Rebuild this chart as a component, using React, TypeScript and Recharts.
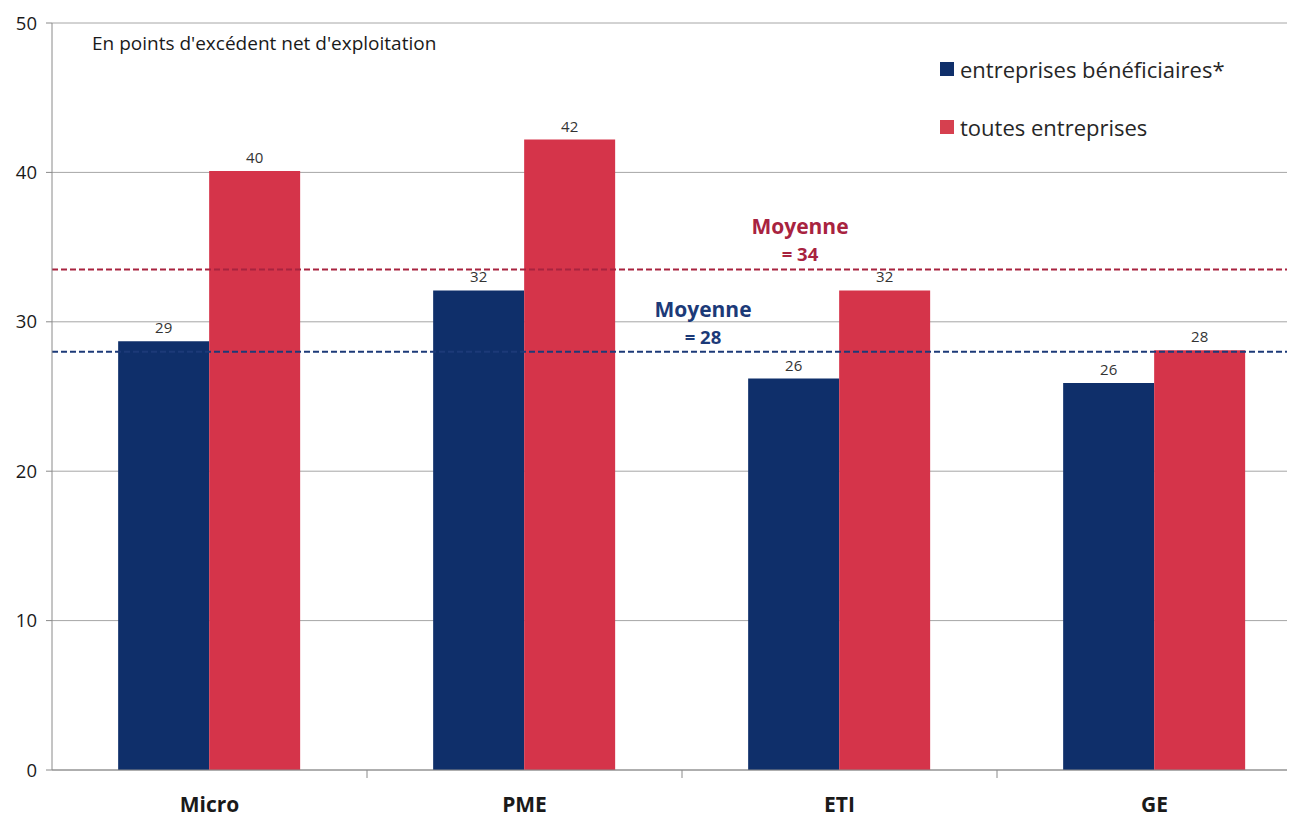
import React from "react";
import {
  BarChart,
  Bar,
  XAxis,
  YAxis,
  CartesianGrid,
  ReferenceLine,
  LabelList,
} from "recharts";

const categories = ["Micro", "PME", "ETI", "GE"];
const beneficiaires = [28.7, 32.1, 26.2, 25.9];
const toutes = [40.1, 42.2, 32.1, 28.1];
const yTicks = [0, 10, 20, 30, 40, 50];
const avgToutes = 33.5;
const avgToutesLabel = "= 34";
const avgBenef = 28;
const avgBenefLabel = "= 28";
const seriesNames = ["entreprises bénéficiaires*", "toutes entreprises"];
const title = "En points d'excédent net d'exploitation";

const data = categories.map((c, i) => ({
  name: c,
  benef: beneficiaires[i],
  toutes: toutes[i],
}));

const BLUE = "#0f2f6a";
const RED = "#d5344a";
const RED_DARK = "#a8233f";
const BLUE_DARK = "#1c3a78";
const FONT = "'Open Sans', 'Liberation Sans', sans-serif";

const CHART_W = 1320;
const CHART_H = 819;
const MARGIN = { top: 23, right: 8, left: 0, bottom: 0 };
const Y_W = 52;
const BAND = (CHART_W - MARGIN.left - MARGIN.right - Y_W) / categories.length;

const XTick = (props: any) => {
  const { x, y, payload } = props;
  const bx = x + BAND / 2;
  return (
    <g>
      <line x1={bx} y1={y - 8} x2={bx} y2={y} stroke="#8a8a8a" strokeWidth={1} />
      <text
        x={x}
        y={y + 34}
        textAnchor="middle"
        fontFamily={FONT}
        fontWeight={700}
        fontSize={21}
        fill="#1a1a1a"
      >
        {payload.value}
      </text>
    </g>
  );
};

const makeAvgLabel = (color: string, cx: number, text: string, dy1: number, dy2: number) =>
  (props: any) => {
    const vb = props.viewBox || {};
    const x = vb.x + cx;
    const y = vb.y;
    return (
      <g>
        <text x={x} y={y + dy1} textAnchor="middle" fontFamily={FONT} fontWeight={700} fontSize={21} fill={color}>
          Moyenne
        </text>
        <text x={x} y={y + dy2} textAnchor="middle" fontFamily={FONT} fontWeight={700} fontSize={18.5} fill={color}>
          {text}
        </text>
      </g>
    );
  };

const labelStyle = { fontFamily: FONT, fontSize: 15, fill: "#333" };

export default function App() {
  return (
    <div
      style={{
        marginLeft: -8,
        marginTop: -8,
        width: 1295,
        height: 819,
        overflow: "hidden",
        position: "relative",
        background: "#fff",
      }}
    >
      <BarChart
        width={CHART_W}
        height={CHART_H}
        data={data}
        margin={MARGIN}
        barCategoryGap="21%"
        barGap={0}
      >
        <CartesianGrid vertical={false} stroke="#a6a6a6" strokeWidth={1} />
        <XAxis
          dataKey="name"
          height={49}
          axisLine={{ stroke: "#8a8a8a" }}
          tickLine={false}
          tick={<XTick />}
          interval={0}
        />
        <YAxis
          width={Y_W}
          domain={[0, 50]}
          ticks={yTicks}
          axisLine={{ stroke: "#8a8a8a" }}
          tickLine={{ stroke: "#8a8a8a" }}
          tickSize={6}
          tickMargin={9}
          tick={{ fontFamily: FONT, fontSize: 18.5, fill: "#1a1a1a" }}
        />
        <Bar dataKey="benef" fill={BLUE} isAnimationActive={false}>
          <LabelList
            dataKey="benef"
            position="top"
            offset={8}
            formatter={(v: any) => Math.round(Number(v))}
            style={labelStyle}
          />
        </Bar>
        <Bar dataKey="toutes" fill={RED} isAnimationActive={false}>
          <LabelList
            dataKey="toutes"
            position="top"
            offset={8}
            formatter={(v: any) => Math.round(Number(v))}
            style={labelStyle}
          />
        </Bar>
        <ReferenceLine
          y={avgToutes}
          stroke={RED_DARK}
          strokeWidth={2}
          strokeDasharray="6 3"
          label={{ content: makeAvgLabel(RED_DARK, 748, avgToutesLabel, -36, -9) } as any}
        />
        <ReferenceLine
          y={avgBenef}
          stroke={BLUE_DARK}
          strokeWidth={2}
          strokeDasharray="6 3"
          label={{ content: makeAvgLabel(BLUE_DARK, 651, avgBenefLabel, -35, -8) } as any}
        />
      </BarChart>
      <div
        style={{
          position: "absolute",
          left: 92,
          top: 30,
          fontFamily: FONT,
          fontSize: 19,
          color: "#1a1a1a",
          whiteSpace: "nowrap",
        }}
      >
        {title}
      </div>
      <div
        style={{
          position: "absolute",
          left: 940,
          top: 40,
          fontFamily: FONT,
          fontSize: 22,
          color: "#262626",
        }}
      >
        {seriesNames.map((n, i) => (
          <div key={n} style={{ display: "flex", alignItems: "center", height: 58 }}>
            <span
              style={{
                display: "inline-block",
                width: 14,
                height: 14,
                background: i === 0 ? BLUE : "#d6404f",
                marginRight: 6,
              }}
            />
            <span style={{ whiteSpace: "nowrap" }}>{n}</span>
          </div>
        ))}
      </div>
    </div>
  );
}
